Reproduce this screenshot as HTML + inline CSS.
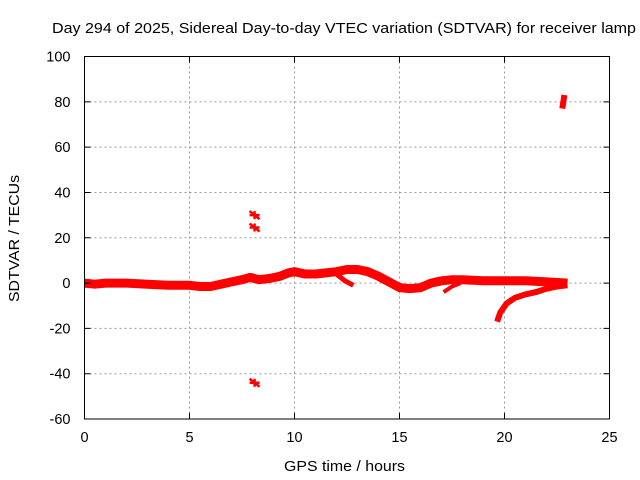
<!DOCTYPE html>
<html><head><meta charset="utf-8">
<style>
body{margin:0;background:#fff;}
svg{display:block;font-family:"Liberation Sans",sans-serif;font-size:14.5px;}
</style></head>
<body>
<svg id="chart" width="640" height="480">
<text x="52" y="33" font-size="14.5" textLength="584" lengthAdjust="spacingAndGlyphs" fill="#000">Day 294 of 2025, Sidereal Day-to-day VTEC variation (SDTVAR) for receiver lamp</text>
<g id="grid"></g>
<g id="series"></g>
<rect x="84.5" y="56.5" width="525" height="362.5" fill="none" stroke="#000" stroke-width="1"/>
<g id="ticks"></g>
<text x="284" y="471" textLength="121" lengthAdjust="spacingAndGlyphs">GPS time / hours</text>
<text transform="translate(19,302) rotate(-90)" textLength="127" lengthAdjust="spacingAndGlyphs">SDTVAR / TECUs</text>
</svg>
<script>
const xTicks=[0,5,10,15,20,25];
const yTicks=[-60,-40,-20,0,20,40,60,80,100];
const mainHours=[0,0.5,1,2,3,4,5,5.5,6,6.5,7,7.5,7.9,8.3,8.8,9.3,9.7,10,10.5,11,11.5,12,12.5,13,13.5,14,14.5,15,15.5,16,16.5,17,17.5,18,19,20,21,22,23];
const mainVals=[0,-0.5,0,0,-0.5,-1,-1,-1.5,-1.5,-0.5,0.5,1.5,2.5,1.5,2,3,4.5,5,4,4,4.5,5,6,6,5,3,0.5,-2,-2.5,-2,0,1,1.5,1.5,1,1,1,0.5,0];
const loopHours=[12,12.4,12.8];
const loopVals=[4,1,-1];
const fallHours=[19.65,19.8,20.1,20.5,21,21.5,22,22.5,23];
const fallVals=[-17,-13,-9,-6.5,-5,-4,-2.5,-1.5,-1];
const branchHours=[17.1,17.5,17.9];
const branchVals=[-4,-1.5,0];
const outlierHours=[8.1,8.1,8.1,22.75,22.85];
const outlierVals=[30,24.5,-44,77,83];
const X0=84.5,X1=609.5,Y0=419,Y1=56.5;
const xs=h=>X0+(h-0)/(25-0)*(X1-X0);
const ys=v=>Y0-(v+60)/160*(Y0-Y1);
const NS="http://www.w3.org/2000/svg";
const grid=document.getElementById('grid'),ticks=document.getElementById('ticks'),ser=document.getElementById('series');
function mk(tag,attrs,parent){const e=document.createElementNS(NS,tag);for(const k in attrs)e.setAttribute(k,attrs[k]);parent.appendChild(e);return e;}
xTicks.forEach(t=>{
 const x=xs(t);
 if(t>0&&t<25){const g=mk('line',{x1:x,x2:x,y1:Y1,y2:Y0,stroke:'#999','stroke-dasharray':'2,3'},grid);
 
 }
 const tk=mk('path',{d:`M${x},${Y0}v-6M${x},${Y1}v6`,stroke:'#000'},ticks);
 
 
 const l=mk('text',{x:x,y:Y0+23,'text-anchor':'middle'},ticks);l.textContent=t;
 
 
});
yTicks.forEach(t=>{
 const y=ys(t);
 if(t>-60&&t<100){const g=mk('line',{x1:X0,x2:X1,y1:y,y2:y,stroke:'#999','stroke-dasharray':'2,3'},grid);
 
 }
 const tk=mk('path',{d:`M${X0},${y}h6M${X1},${y}h-6`,stroke:'#000'},ticks);
 
 
 const l=mk('text',{x:X0-14,y:y+5,'text-anchor':'end'},ticks);l.textContent=t;
 
 
});
function band(hs,vs,w,name){
 const d=hs.map((h,i)=>(i?'L':'M')+xs(h).toFixed(1)+','+ys(vs[i]).toFixed(1)).join('');
 const p=mk('path',{d:d,fill:'none',stroke:'#f00','stroke-width':w,'stroke-linejoin':'round','stroke-linecap':'butt'},ser);
 
 
}
band(mainHours,mainVals,9,'sdtvar-main-band');
band(loopHours,loopVals,5,'sdtvar-loop-branch');
band(fallHours,fallVals,6,'sdtvar-recovery-branch');
band(branchHours,branchVals,4,'sdtvar-small-branch');
band([outlierHours[3],outlierHours[4]],[outlierVals[3],outlierVals[4]],6,'sdtvar-outlier-high');
for(let i=0;i<3;i++){
 const x=xs(outlierHours[i]),y=ys(outlierVals[i]);
 const p=mk('path',{d:`M${x-5},${y-4}L${x+5},${y+4}M${x-5},${y}h10M${x},${y-4}v8`,stroke:'#f00','stroke-width':2.5},ser);
 
 
}
</script>
</body></html>
